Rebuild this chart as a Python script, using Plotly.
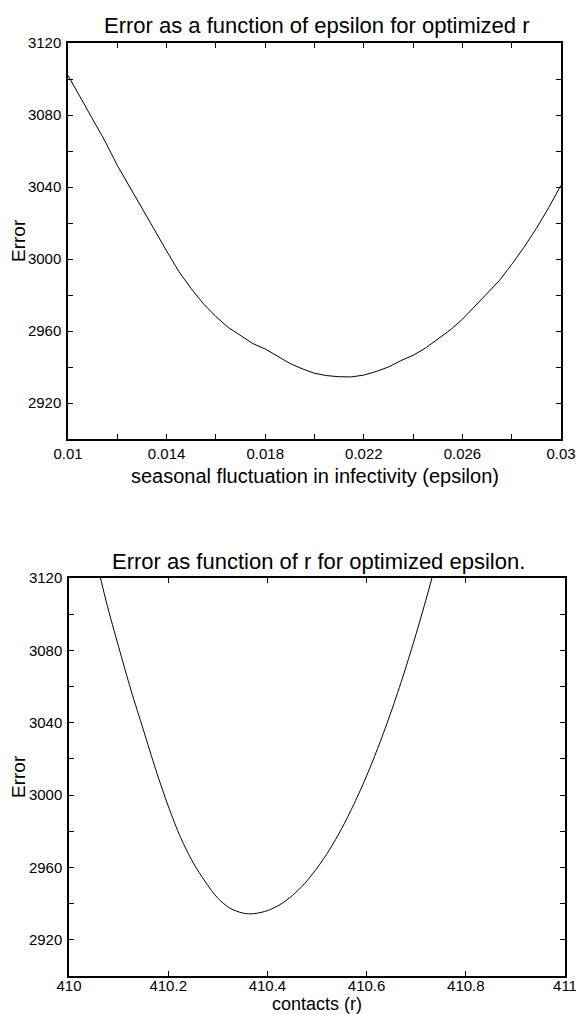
import plotly.graph_objects as go

# ---- data ----
eps = [0.0100, 0.0105, 0.0110, 0.0115, 0.0120, 0.0125, 0.0130, 0.0135, 0.0140, 0.0145,
       0.0150, 0.0155, 0.0160, 0.0165, 0.0170, 0.0175, 0.0180, 0.0185, 0.0190, 0.0195,
       0.0200, 0.0205, 0.0210, 0.0215, 0.0220, 0.0225, 0.0230, 0.0235, 0.0240, 0.0245,
       0.0250, 0.0255, 0.0260, 0.0265, 0.0270, 0.0275, 0.0280, 0.0285, 0.0290, 0.0295,
       0.0300]
err_eps = [3102, 3090, 3078, 3065.5, 3052, 3040, 3028, 3016, 3004.5, 2993,
           2983.5, 2975, 2968, 2962, 2957.5, 2953, 2950, 2946, 2942, 2939,
           2936.5, 2935.2, 2934.6, 2934.5, 2935.5, 2937.5, 2940, 2943.5, 2946.5, 2950.5,
           2955.5, 2960.5, 2966.5, 2973.5, 2981, 2988, 2997, 3006.5, 3017, 3028.5,
           3041]

r_vals = [410.050, 410.075, 410.100, 410.125, 410.150, 410.175, 410.200, 410.225,
          410.250, 410.275, 410.300, 410.325, 410.350, 410.365, 410.375, 410.400,
          410.425, 410.450, 410.475, 410.500, 410.525, 410.550, 410.575, 410.600,
          410.625, 410.650, 410.675, 410.700, 410.725, 410.750]
err_r = [3136, 3107, 3082, 3058, 3036, 3014, 2994, 2976.5,
         2962.8, 2952, 2943, 2937.4, 2934.8, 2934.4, 2934.5, 2936.1,
         2939.4, 2944.4, 2951.1, 2959.6, 2969.7, 2981.6, 2995.3, 3010.6,
         3027.7, 3046.5, 3067, 3089.3, 3113.2, 3139]

eps_ticks = [0.010, 0.012, 0.014, 0.016, 0.018, 0.020, 0.022, 0.024, 0.026, 0.028, 0.030]
eps_ticktext = ["0.01", "", "0.014", "", "0.018", "", "0.022", "", "0.026", "", "0.03"]
r_ticks = [410, 410.2, 410.4, 410.6, 410.8, 411]
r_ticktext = ["410", "410.2", "410.4", "410.6", "410.8", "411"]
err_ticks = [2900, 2920, 2940, 2960, 2980, 3000, 3020, 3040, 3060, 3080, 3100, 3120]
err_ticktext = ["", "2920", "", "2960", "", "3000", "", "3040", "", "3080", "", "3120"]

title_top = "Error as a function of epsilon for optimized r"
title_bot = "Error as function of r for optimized epsilon."
xlabel_top = "seasonal fluctuation in infectivity (epsilon)"
xlabel_bot = "contacts (r)"
ylabel = "Error"

W, H = 576, 1014
FONT = "Liberation Sans, Arial, Helvetica, sans-serif"

fig = go.Figure()
fig.add_trace(go.Scatter(x=eps, y=err_eps, mode="lines",
                         line=dict(color="black", width=1), xaxis="x", yaxis="y",
                         showlegend=False))
fig.add_trace(go.Scatter(x=r_vals, y=err_r, mode="lines",
                         line=dict(color="black", width=1, shape="spline", smoothing=0.8),
                         xaxis="x2", yaxis="y2", showlegend=False))

def px_x(p):
    return p / W

def px_y(p):
    return 1 - p / H

axis_common = dict(showgrid=False, zeroline=False, showline=True, linecolor="black",
                   linewidth=1.5, mirror="allticks", ticks="inside", ticklen=5,
                   tickwidth=1, tickcolor="black", automargin=False,
                   ticklabeloverflow="allow",
                   tickfont=dict(family=FONT, size=15, color="black"))

# top panel: x 68-561, y 43-439 ; bottom panel: x 69-565, y 578-976
fig.update_layout(
    xaxis=dict(domain=[px_x(68), px_x(561)], range=[0.01, 0.03], anchor="y",
               tickmode="array", tickvals=eps_ticks, ticktext=eps_ticktext, **axis_common),
    yaxis=dict(domain=[px_y(439), px_y(43)], range=[2900, 3120], anchor="x",
               tickmode="array", tickvals=err_ticks, ticktext=err_ticktext,
               ticklabelstandoff=2, **axis_common),
    xaxis2=dict(domain=[px_x(69), px_x(565)], range=[410, 411], anchor="y2",
                tickmode="array", tickvals=r_ticks, ticktext=r_ticktext,
                ticklabelstandoff=-5, **axis_common),
    yaxis2=dict(domain=[px_y(976), px_y(578)], range=[2900, 3120], anchor="x2",
                tickmode="array", tickvals=err_ticks, ticktext=err_ticktext,
                ticklabelstandoff=2, **axis_common),
)

ann = []
def add_text(text, x, y, size, angle=0):
    ann.append(dict(text=text, x=px_x(x), y=px_y(y), xref="paper", yref="paper",
                    xanchor="center", yanchor="middle", showarrow=False, textangle=angle,
                    font=dict(family=FONT, size=size, color="black")))

add_text(title_top, 317, 25, 22)
add_text(xlabel_top, 315, 476, 20)
add_text(ylabel, 18, 241, 19, -90)
add_text(title_bot, 318, 561, 22)
add_text(xlabel_bot, 317, 1004, 18)
add_text(ylabel, 18, 777, 19, -90)

fig.update_layout(width=W, height=H, margin=dict(l=0, r=0, t=0, b=0, autoexpand=False),
                  paper_bgcolor="white", plot_bgcolor="white", annotations=ann,
                  font=dict(family=FONT))

fig.write_html("out.html")
